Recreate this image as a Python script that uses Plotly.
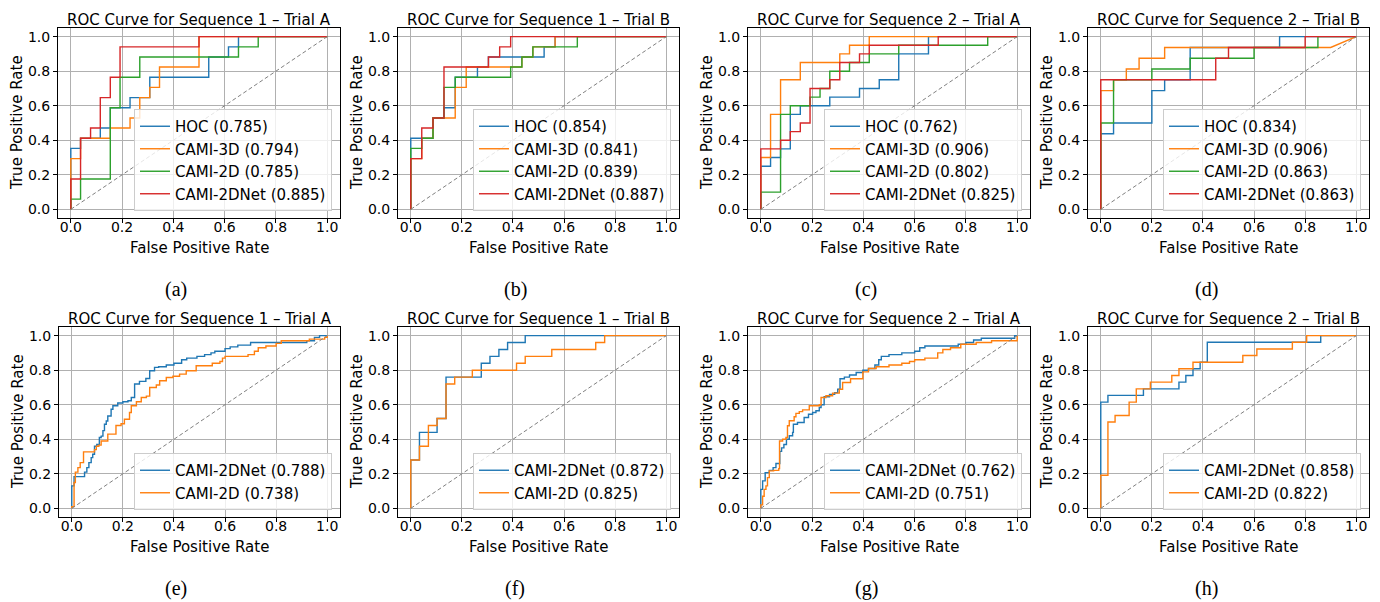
import plotly.graph_objects as go

# ---------------- DATA ----------------
TITLES = ["ROC Curve for Sequence 1 – Trial A", "ROC Curve for Sequence 1 – Trial B",
          "ROC Curve for Sequence 2 – Trial A", "ROC Curve for Sequence 2 – Trial B",
          "ROC Curve for Sequence 1 – Trial A", "ROC Curve for Sequence 1 – Trial B",
          "ROC Curve for Sequence 2 – Trial A", "ROC Curve for Sequence 2 – Trial B"]
CAPTIONS = ["(a)", "(b)", "(c)", "(d)", "(e)", "(f)", "(g)", "(h)"]
TICKS = [0.0, 0.2, 0.4, 0.6, 0.8, 1.0]
CHANCE = [0.0, 1.0]
X_TITLE = "False Positive Rate"
Y_TITLE = "True Positive Rate"

TOP_LABELS = ["HOC", "CAMI-3D", "CAMI-2D", "CAMI-2DNet"]
BOTTOM_LABELS = ["CAMI-2DNet", "CAMI-2D"]

AUC_A = [0.785, 0.794, 0.785, 0.885]
AUC_B = [0.854, 0.841, 0.839, 0.887]
AUC_C = [0.762, 0.906, 0.802, 0.825]
AUC_D = [0.834, 0.906, 0.863, 0.863]
AUC_E = [0.788, 0.738]
AUC_F = [0.872, 0.825]
AUC_G = [0.762, 0.751]
AUC_H = [0.858, 0.822]

# (a) Sequence 1 - Trial A  (step points: fpr, tpr after each jump)
A_HOC_FPR = [0, 0, 0.038, 0.115, 0.154, 0.231, 0.308, 0.538, 0.615, 0.654, 1.0]
A_HOC_TPR = [0, 0.353, 0.412, 0.471, 0.588, 0.647, 0.765, 0.882, 0.941, 1.0, 1.0]
A_3D_FPR = [0, 0, 0.038, 0.154, 0.231, 0.269, 0.308, 0.346, 0.5, 1.0]
A_3D_TPR = [0, 0.294, 0.412, 0.471, 0.529, 0.647, 0.706, 0.824, 1.0, 1.0]
A_2D_FPR = [0, 0, 0.038, 0.154, 0.192, 0.269, 0.654, 0.731, 1.0]
A_2D_TPR = [0, 0.059, 0.176, 0.588, 0.765, 0.882, 0.941, 1.0, 1.0]
A_NET_FPR = [0, 0, 0.038, 0.077, 0.115, 0.154, 0.192, 0.5, 1.0]
A_NET_TPR = [0, 0.176, 0.412, 0.471, 0.647, 0.765, 0.941, 1.0, 1.0]

# (b) Sequence 1 - Trial B
B_HOC_FPR = [0, 0, 0.087, 0.13, 0.174, 0.261, 0.304, 0.522, 0.565, 1.0]
B_HOC_TPR = [0, 0.412, 0.529, 0.588, 0.765, 0.824, 0.882, 0.941, 1.0, 1.0]
B_3D_FPR = [0, 0, 0.043, 0.087, 0.174, 0.217, 0.435, 0.478, 0.565, 1.0]
B_3D_TPR = [0, 0.294, 0.412, 0.529, 0.706, 0.824, 0.882, 0.941, 1.0, 1.0]
B_2D_FPR = [0, 0, 0.043, 0.087, 0.13, 0.174, 0.391, 0.435, 0.478, 0.652, 1.0]
B_2D_TPR = [0, 0.353, 0.412, 0.529, 0.706, 0.765, 0.824, 0.882, 0.941, 1.0, 1.0]
B_NET_FPR = [0, 0, 0.043, 0.087, 0.13, 0.304, 0.348, 0.391, 1.0]
B_NET_TPR = [0, 0.294, 0.471, 0.529, 0.824, 0.882, 0.941, 1.0, 1.0]

# (c) Sequence 2 - Trial A
C_HOC_FPR = [0, 0, 0.038, 0.077, 0.115, 0.154, 0.269, 0.385, 0.462, 0.538, 0.654, 1.0]
C_HOC_TPR = [0, 0.25, 0.3, 0.35, 0.55, 0.6, 0.65, 0.7, 0.75, 0.9, 1.0, 1.0]
C_3D_FPR = [0, 0, 0.038, 0.077, 0.154, 0.308, 0.346, 0.423, 1.0]
C_3D_TPR = [0, 0.3, 0.55, 0.75, 0.85, 0.9, 0.95, 1.0, 1.0]
C_2D_FPR = [0, 0, 0.077, 0.115, 0.192, 0.231, 0.269, 0.346, 0.423, 0.538, 0.885, 1.0]
C_2D_TPR = [0, 0.1, 0.55, 0.6, 0.65, 0.7, 0.8, 0.85, 0.9, 0.95, 1.0, 1.0]
C_NET_FPR = [0, 0, 0.077, 0.115, 0.154, 0.192, 0.269, 0.308, 0.385, 0.423, 0.692, 1.0]
C_NET_TPR = [0, 0.35, 0.4, 0.45, 0.5, 0.7, 0.75, 0.85, 0.9, 0.95, 1.0, 1.0]

# (d) Sequence 2 - Trial B
D_HOC_FPR = [0, 0, 0.05, 0.2, 0.25, 0.35, 0.7, 1.0]
D_HOC_TPR = [0, 0.4375, 0.5, 0.6875, 0.75, 0.9375, 1.0, 1.0]
# CAMI-3D given as full vertex list (ends with a tied, diagonal segment)
D_3D_FPR = [0, 0, 0.05, 0.05, 0.1, 0.1, 0.15, 0.15, 0.25, 0.25, 0.9, 1.0]
D_3D_TPR = [0, 0.6875, 0.6875, 0.75, 0.75, 0.8125, 0.8125, 0.875, 0.875, 0.9375, 0.9375, 1.0]
D_2D_FPR = [0, 0, 0.05, 0.2, 0.35, 0.6, 0.85, 1.0]
D_2D_TPR = [0, 0.5, 0.75, 0.8125, 0.875, 0.9375, 1.0, 1.0]
D_NET_FPR = [0, 0, 0.45, 0.5, 0.8, 1.0]
D_NET_TPR = [0, 0.75, 0.875, 0.9375, 1.0, 1.0]

# (e) Sequence 1 - Trial A
E_NET_FPR = [0, 0, 0.009, 0.05, 0.059, 0.067, 0.076, 0.082, 0.089, 0.098, 0.108, 0.115, 0.122,
             0.128, 0.135, 0.141, 0.154, 0.161, 0.18, 0.2, 0.22, 0.233, 0.246, 0.265, 0.29, 0.305,
             0.324, 0.34, 0.37, 0.4, 0.43, 0.45, 0.49, 0.52, 0.545, 0.56, 0.6, 0.62, 0.65, 0.7,
             0.92, 0.95, 0.97, 1.0]
E_NET_TPR = [0, 0.13, 0.184, 0.21, 0.236, 0.265, 0.294, 0.313, 0.36, 0.37, 0.41, 0.418, 0.45,
             0.487, 0.506, 0.535, 0.574, 0.594, 0.61, 0.617, 0.623, 0.642, 0.72, 0.735, 0.752, 0.797,
             0.816, 0.82, 0.83, 0.84, 0.86, 0.87, 0.88, 0.89, 0.9, 0.91, 0.925, 0.935, 0.945, 0.96,
             0.97, 0.99, 1.0, 1.0]
E_2D_FPR = [0, 0, 0.009, 0.014, 0.024, 0.033, 0.046, 0.089, 0.096, 0.106, 0.115, 0.141, 0.173,
            0.193, 0.206, 0.226, 0.233, 0.253, 0.272, 0.292, 0.305, 0.331, 0.344, 0.37, 0.396,
            0.422, 0.448, 0.487, 0.55, 0.58, 0.59, 0.6, 0.69, 0.715, 0.73, 0.76, 0.8, 0.82, 0.93,
            0.99, 1.0]
E_2D_TPR = [0, 0.01, 0.15, 0.21, 0.236, 0.265, 0.327, 0.34, 0.36, 0.366, 0.39, 0.43, 0.48,
            0.49, 0.516, 0.555, 0.594, 0.617, 0.642, 0.65, 0.70, 0.714, 0.739, 0.758, 0.765,
            0.777, 0.797, 0.826, 0.84, 0.85, 0.87, 0.88, 0.89, 0.91, 0.93, 0.94, 0.955, 0.97, 0.98,
            0.99, 1.0]

# (f) Sequence 1 - Trial B
F_NET_FPR = [0, 0, 0.034, 0.103, 0.138, 0.276, 0.31, 0.345, 0.379, 0.448, 1.0]
F_NET_TPR = [0, 0.28, 0.44, 0.52, 0.76, 0.84, 0.88, 0.92, 0.96, 1.0, 1.0]
F_2D_FPR = [0, 0, 0.034, 0.069, 0.103, 0.138, 0.172, 0.241, 0.414, 0.448, 0.552, 0.724, 0.759, 1.0]
F_2D_TPR = [0, 0.28, 0.36, 0.48, 0.52, 0.72, 0.76, 0.8, 0.84, 0.88, 0.92, 0.96, 1.0, 1.0]

# (g) Sequence 2 - Trial A
G_NET_FPR = [0, 0, 0.007, 0.017, 0.033, 0.048, 0.059, 0.074, 0.081, 0.09, 0.1, 0.111, 0.124,
             0.127, 0.143, 0.169, 0.186, 0.202, 0.215, 0.228, 0.235, 0.247, 0.268, 0.288, 0.3,
             0.309, 0.326, 0.346, 0.372, 0.398, 0.42, 0.445, 0.46, 0.47, 0.5, 0.55, 0.6, 0.62,
             0.64, 0.77, 0.8, 0.83, 0.86, 0.99, 1.0]
G_NET_TPR = [0, 0.11, 0.159, 0.207, 0.22, 0.236, 0.26, 0.33, 0.35, 0.37, 0.4, 0.42, 0.44,
             0.487, 0.497, 0.526, 0.545, 0.555, 0.565, 0.584, 0.6, 0.646, 0.66, 0.67, 0.69,
             0.75, 0.76, 0.772, 0.787, 0.8, 0.81, 0.83, 0.86, 0.88, 0.89, 0.9, 0.91, 0.93,
             0.94, 0.95, 0.96, 0.975, 0.985, 1.0, 1.0]
G_2D_FPR = [0, 0, 0.007, 0.013, 0.02, 0.026, 0.033, 0.05, 0.07, 0.073, 0.085, 0.098, 0.104,
            0.111, 0.13, 0.137, 0.15, 0.163, 0.189, 0.228, 0.235, 0.254, 0.28, 0.306, 0.319,
            0.35, 0.398, 0.42, 0.45, 0.5, 0.55, 0.58, 0.6, 0.64, 0.69, 0.71, 0.74, 0.78, 0.84,
            0.9, 1.0]
G_2D_TPR = [0, 0.02, 0.07, 0.11, 0.13, 0.178, 0.217, 0.22, 0.23, 0.39, 0.40, 0.41, 0.478,
            0.507, 0.53, 0.55, 0.56, 0.57, 0.594, 0.6, 0.642, 0.652, 0.667, 0.69, 0.729,
            0.75, 0.79, 0.81, 0.82, 0.83, 0.84, 0.85, 0.86, 0.87, 0.9, 0.92, 0.93, 0.95, 0.96,
            0.97, 1.0]

# (h) Sequence 2 - Trial B
H_NET_FPR = [0, 0, 0.028, 0.167, 0.306, 0.333, 0.361, 0.389, 0.417, 0.861, 1.0]
H_NET_TPR = [0, 0.615, 0.654, 0.692, 0.731, 0.769, 0.808, 0.846, 0.962, 1.0, 1.0]
H_2D_FPR = [0, 0, 0.028, 0.056, 0.111, 0.139, 0.194, 0.278, 0.306, 0.361, 0.556, 0.611, 0.75, 0.806, 1.0]
H_2D_TPR = [0, 0.192, 0.5, 0.538, 0.615, 0.692, 0.731, 0.769, 0.808, 0.846, 0.885, 0.923, 0.962, 1.0, 1.0]

# ---------------- STYLE / LAYOUT ----------------
W, H = 1380, 602
BLUE, ORANGE, GREEN, RED = "#1f77b4", "#ff7f0e", "#2ca02c", "#d62728"
TOP_COLORS = [BLUE, ORANGE, GREEN, RED]
BOTTOM_COLORS = [BLUE, ORANGE]
FONT = "DejaVu Sans"

# axes boxes in pixels: (left, right, top, bottom)
BOXES = [(58, 340, 28, 218), (398, 679, 28, 218), (748, 1030, 28, 218), (1088, 1369, 28, 218),
         (59, 340, 327, 517), (398, 679, 327, 517), (748, 1030, 327, 517), (1088, 1369, 327, 517)]
CAP_X = [176, 515, 866, 1206]
CAP_Y = [290, 588]

PANELS = [
    (TOP_LABELS, AUC_A, [(A_HOC_FPR, A_HOC_TPR), (A_3D_FPR, A_3D_TPR), (A_2D_FPR, A_2D_TPR), (A_NET_FPR, A_NET_TPR)], TOP_COLORS, ["hv"] * 4),
    (TOP_LABELS, AUC_B, [(B_HOC_FPR, B_HOC_TPR), (B_3D_FPR, B_3D_TPR), (B_2D_FPR, B_2D_TPR), (B_NET_FPR, B_NET_TPR)], TOP_COLORS, ["hv"] * 4),
    (TOP_LABELS, AUC_C, [(C_HOC_FPR, C_HOC_TPR), (C_3D_FPR, C_3D_TPR), (C_2D_FPR, C_2D_TPR), (C_NET_FPR, C_NET_TPR)], TOP_COLORS, ["hv"] * 4),
    (TOP_LABELS, AUC_D, [(D_HOC_FPR, D_HOC_TPR), (D_3D_FPR, D_3D_TPR), (D_2D_FPR, D_2D_TPR), (D_NET_FPR, D_NET_TPR)], TOP_COLORS, ["hv", "linear", "hv", "hv"]),
    (BOTTOM_LABELS, AUC_E, [(E_NET_FPR, E_NET_TPR), (E_2D_FPR, E_2D_TPR)], BOTTOM_COLORS, ["hv"] * 2),
    (BOTTOM_LABELS, AUC_F, [(F_NET_FPR, F_NET_TPR), (F_2D_FPR, F_2D_TPR)], BOTTOM_COLORS, ["hv"] * 2),
    (BOTTOM_LABELS, AUC_G, [(G_NET_FPR, G_NET_TPR), (G_2D_FPR, G_2D_TPR)], BOTTOM_COLORS, ["hv"] * 2),
    (BOTTOM_LABELS, AUC_H, [(H_NET_FPR, H_NET_TPR), (H_2D_FPR, H_2D_TPR)], BOTTOM_COLORS, ["hv"] * 2),
]

fig = go.Figure()
layout = dict(
    width=W, height=H, margin=dict(l=0, r=0, t=0, b=0, pad=0),
    paper_bgcolor="white", plot_bgcolor="white",
    font=dict(family=FONT, color="black", size=14),
    showlegend=True,
)
annotations = []

for i, (labels, aucs, curves, colors, shapes) in enumerate(PANELS):
    n = i + 1
    xa = "x" if n == 1 else f"x{n}"
    ya = "y" if n == 1 else f"y{n}"
    lg = "legend" if n == 1 else f"legend{n}"
    for lab, auc, (fpr, tpr), col, shp in zip(labels, aucs, curves, colors, shapes):
        fig.add_trace(go.Scatter(
            x=fpr, y=tpr, mode="lines", name=f"{lab} ({auc:.3f})",
            line=dict(color=col, width=1.4, shape=shp),
            xaxis=xa, yaxis=ya, legend=lg))
    fig.add_trace(go.Scatter(
        x=CHANCE, y=CHANCE, mode="lines", showlegend=False,
        line=dict(color="#808080", width=1, dash="4px,2.5px"),
        xaxis=xa, yaxis=ya))

    L, R, T, B = BOXES[i]
    axis_common = dict(
        range=[-0.05, 1.05], tickmode="array", tickvals=TICKS, tickformat=".1f",
        showgrid=True, gridcolor="#b0b0b0", gridwidth=1, zeroline=False,
        showline=True, linecolor="black", linewidth=1, mirror=True,
        ticks="outside", ticklen=4, tickcolor="black", tickwidth=1,
        tickfont=dict(family=FONT, size=14, color="black"),
    )
    xkey = "xaxis" if n == 1 else f"xaxis{n}"
    ykey = "yaxis" if n == 1 else f"yaxis{n}"
    layout[xkey] = dict(domain=[L / W, R / W], anchor=ya, ticklabelstandoff=-8, **axis_common)
    layout[ykey] = dict(domain=[1 - B / H, 1 - T / H], anchor=xa, **axis_common)

    layout[lg] = dict(
        x=(R - 8) / W, y=1 - (B - 7) / H, xanchor="right", yanchor="bottom",
        bgcolor="rgba(255,255,255,0.8)", bordercolor="#cccccc", borderwidth=1,
        font=dict(family=FONT, size=15, color="black"), tracegroupgap=0,
    )

    # subplot title
    annotations.append(dict(text=TITLES[i], x=(L + R) / 2 / W, y=1 - (T - 8) / H,
                            xref="paper", yref="paper", showarrow=False,
                            xanchor="center", yanchor="middle",
                            font=dict(family=FONT, size=15, color="black")))
    # x axis title
    annotations.append(dict(text=X_TITLE, x=(L + R) / 2 / W, y=1 - (B + 30) / H,
                            xref="paper", yref="paper", showarrow=False,
                            xanchor="center", yanchor="middle",
                            font=dict(family=FONT, size=15, color="black")))
    # y axis title
    annotations.append(dict(text=Y_TITLE, x=(L - 41) / W, y=1 - (T + B) / 2 / H,
                            xref="paper", yref="paper", showarrow=False, textangle=-90,
                            xanchor="center", yanchor="middle",
                            font=dict(family=FONT, size=15, color="black")))
    # caption
    annotations.append(dict(text=CAPTIONS[i], x=CAP_X[i % 4] / W, y=1 - CAP_Y[i // 4] / H,
                            xref="paper", yref="paper", showarrow=False,
                            xanchor="center", yanchor="middle",
                            font=dict(family="Liberation Serif", size=20, color="black")))

layout["annotations"] = annotations
fig.update_layout(**layout)

fig.write_html("out.html", config={"displayModeBar": False},
               post_script="document.body.style.margin='0';")
